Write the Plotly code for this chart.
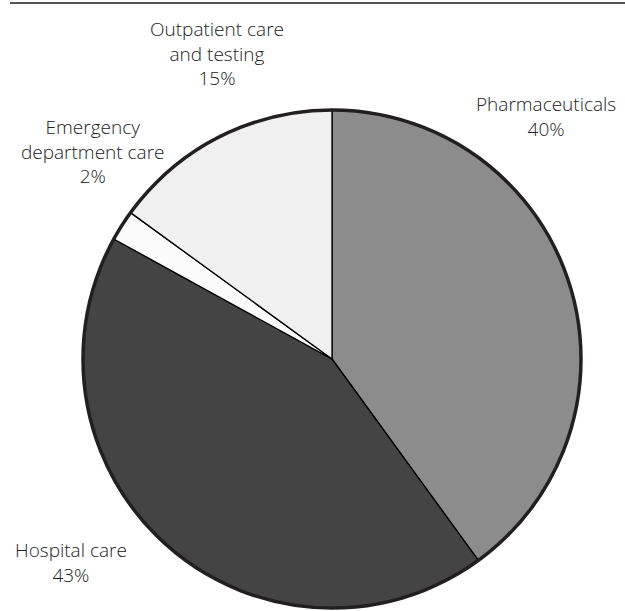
import plotly.graph_objects as go

labels = ["Pharmaceuticals", "Hospital care", "Emergency department care", "Outpatient care and testing"]
values = [40, 43, 2, 15]
label_text = ["Pharmaceuticals<br>40%", "Hospital care<br>43%", "Emergency<br>department care<br>2%", "Outpatient care<br>and testing<br>15%"]
colors = ["#8c8c8c", "#444444", "#fbfbfb", "#f0f0f0"]
# label anchor positions (pixels, center of text block)
label_px = [(546, 116), (71, 562), (93, 152), (217, 54)]

W, H = 625, 611
ml, mr, mt, mb = 83, 44, 110, 3
pw, ph = W - ml - mr, H - mt - mb

fig = go.Figure(go.Pie(
    labels=labels, values=values, sort=False, direction="clockwise", rotation=0,
    marker=dict(colors=colors, line=dict(color="#000000", width=1.3)),
    textinfo="none", hoverinfo="label+percent", showlegend=False,
    domain=dict(x=[0, 1], y=[0, 1]),
))

annotations = []
for txt, (px, py) in zip(label_text, label_px):
    annotations.append(dict(
        x=(px - ml) / pw, y=1 - (py - mt) / ph, xref="paper", yref="paper",
        text=txt, showarrow=False, align="center", xanchor="center", yanchor="middle",
        font=dict(family="Open Sans, Lato, sans-serif", size=19, color="#222222", weight=300),
    ))

shapes = [
    dict(type="circle", xref="paper", yref="paper", x0=0, x1=1, y0=0, y1=1,
         line=dict(color="#231f20", width=3.5), fillcolor="rgba(0,0,0,0)", layer="above"),
    dict(type="line", xref="paper", yref="paper",
         x0=(10 - ml) / pw, x1=(625 - ml) / pw, y0=1 - (3 - mt) / ph, y1=1 - (3 - mt) / ph,
         line=dict(color="#555555", width=2)),
]

fig.update_layout(
    width=W, height=H, margin=dict(l=ml, r=mr, t=mt, b=mb),
    paper_bgcolor="white", plot_bgcolor="white",
    annotations=annotations, shapes=shapes,
)

fig.write_html("out.html")
